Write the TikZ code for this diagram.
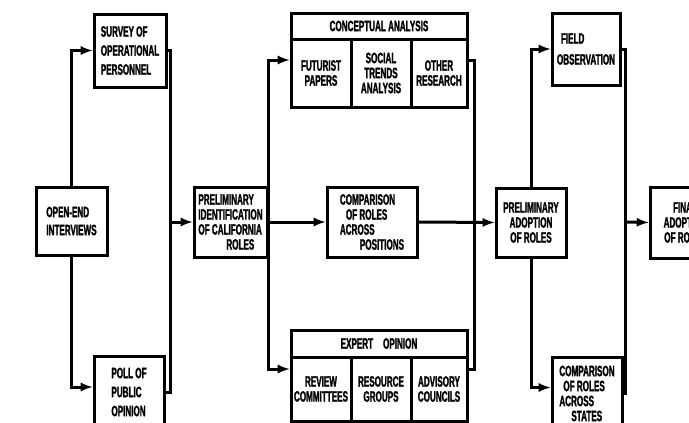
\documentclass[tikz,border=0pt]{standalone}
\usepackage{fontspec}
\usepackage{tikz}
\newfontfamily\boxfont{Liberation Sans Bold}[FakeStretch=0.54,FakeBold=1.4]
\tikzset{>=latex}
\tikzset{box/.style={draw,line width=3pt,fill=white,inner sep=1.5pt,
    font=\boxfont\fontsize{15}{15}\selectfont}}

\begin{document}
\begin{tikzpicture}[x=1pt,y=-1pt,line width=3pt]
		\useasboundingbox (0,0) rectangle (689,423);
		\clip (0,0) rectangle (689,423);
		% First stage
		\node[box,minimum width=71pt,minimum height=68pt,align=left] (open) at (71.5,221) {OPEN-END\\[3pt]INTERVIEWS};
		\node[box,minimum width=72pt,minimum height=73pt,align=left] (survey) at (130,50.5) {SURVEY OF\\[4pt]OPERATIONAL\\[4pt]PERSONNEL};
		\node[box,minimum width=70pt,minimum height=72pt,align=left] (poll) at (129,392) {POLL OF\\[4pt]PUBLIC\\[4pt]OPINION};
		\node[box,minimum width=73pt,minimum height=70pt,align=left] (ident) at (230.5,222) {PRELIMINARY\\IDENTIFICATION\\OF CALIFORNIA\\\hspace*{28pt}ROLES};
		\coordinate (j1) at (170,222);
		\draw[->] (open.north) |- (survey.west);
		\draw[->] (open.south) |- ([yshift=5pt]poll.west);
		\draw (survey.east) -| (j1) |- (poll.east);
		\draw[->] (j1) -- (ident.west);
		% Conceptual analysis
		\node[box,minimum width=176pt,minimum height=26pt] (concept) at (379,26) {CONCEPTUAL ANALYSIS};
		\node[box,minimum width=60pt,minimum height=68pt,align=center] (futurist) at (321,73) {FUTURIST\\PAPERS};
		\node[box,minimum width=60pt,minimum height=68pt,align=center] (social) at (381,73) {SOCIAL\\TRENDS\\ANALYSIS};
		\node[box,minimum width=56pt,minimum height=68pt,align=center] (other) at (439,73) {OTHER\\RESEARCH};
		% Expert opinion
		\node[box,minimum width=176pt,minimum height=27pt] (expert) at (379,343.5) {EXPERT\hspace{10pt}OPINION};
		\node[box,minimum width=60pt,minimum height=64pt,align=center] (review) at (321,389) {REVIEW\\COMMITTEES};
		\node[box,minimum width=60pt,minimum height=64pt,align=center] (resource) at (381,389) {RESOURCE\\GROUPS};
		\node[box,minimum width=56pt,minimum height=64pt,align=center] (advisory) at (439,389) {ADVISORY\\COUNCILS};
		% Second stage
		\node[box,minimum width=90pt,minimum height=70pt,align=left] (comp) at (372,222) {COMPARISON\\\hspace*{6pt}OF ROLES\\ACROSS\\\hspace*{20pt}POSITIONS};
		\node[box,minimum width=70pt,minimum height=69pt,align=center] (adopt) at (531,222.5) {PRELIMINARY\\ADOPTION\\OF ROLES};
		\coordinate (j2) at (268,222);
		\coordinate (j3) at (474,222);
		\draw[->] (ident.east) -- (comp.west);
		\draw[->] (j2) |- ([yshift=13pt]futurist.west);
		\draw[->] (j2) |- ([yshift=20pt]review.west);
		\draw ([yshift=13pt]other.east) -| (j3) |- ([yshift=20pt]advisory.east);
		\draw[->] (comp.east) -- (adopt.west);
		% Third stage
		\node[box,minimum width=68pt,minimum height=72pt,align=left] (field) at (586,49) {\hspace*{4pt}FIELD\\[6pt]OBSERVATION};
		\node[box,minimum width=70pt,minimum height=73pt,align=left] (states) at (587,393.5) {COMPARISON\\\hspace*{4pt}OF ROLES\\ACROSS\\\hspace*{12pt}STATES};
		\node[box,minimum width=70pt,minimum height=71pt,align=center] (final) at (685,222.5) {FINAL\\ADOPTION\\OF ROLES};
		\coordinate (j4) at (625,222);
		\draw[->] (adopt.north) |- (field.west);
		\draw[->] (adopt.south) |- ([yshift=6pt]states.west);
		\draw (field.east) -| (j4) |- (states.east);
		\draw[->] (j4) -- (final.west);
\end{tikzpicture}
\end{document}
